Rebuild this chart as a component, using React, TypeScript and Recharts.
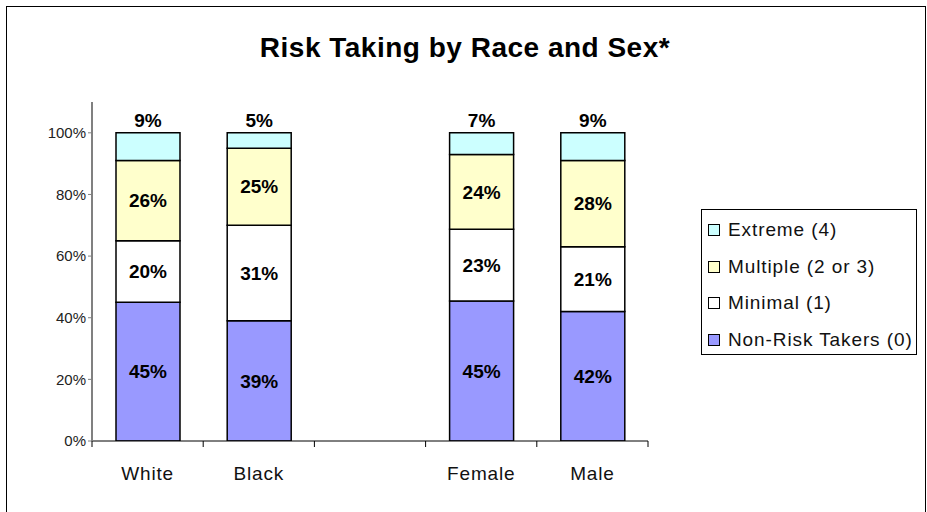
import { BarChart, Bar, XAxis, YAxis, LabelList } from 'recharts'

const categories = ['White', 'Black', '', 'Female', 'Male']
const nonRisk = [45, 39, 0, 45, 42]
const minimal = [20, 31, 0, 23, 21]
const multiple = [26, 25, 0, 24, 28]
const extreme = [9, 5, 0, 7, 9]
const yTicks = [0, 20, 40, 60, 80, 100]

const SERIES = [
  { key: 'nonRisk', label: 'Non-Risk Takers (0)', color: '#9999FF', values: nonRisk },
  { key: 'minimal', label: 'Minimal (1)', color: '#FFFFFF', values: minimal },
  { key: 'multiple', label: 'Multiple (2 or 3)', color: '#FFFFCC', values: multiple },
  { key: 'extreme', label: 'Extreme (4)', color: '#CCFFFF', values: extreme },
]

// 100% stacked: each column scaled to its own total, raw value kept for the label
const data = categories.map((name, i) => {
  const total = SERIES.reduce((t, s) => t + s.values[i], 0)
  const row: Record<string, any> = { name }
  SERIES.forEach(s => {
    row[s.key] = total ? (s.values[i] / total) * 100 : 0
    row[s.key + 'Raw'] = s.values[i]
  })
  return row
})

const W = 927
const H = 512
const PLOT_LEFT = 92
const PLOT_RIGHT = 648
const BAND = (PLOT_RIGHT - PLOT_LEFT) / categories.length
const FONT = '"Liberation Sans", Arial, sans-serif'

const pct = (v: any) => (v ? `${v}%` : '')

function CatTick({ x, y, payload, index }: any) {
  return (
    <g>
      <line x1={x - BAND / 2} x2={x - BAND / 2} y1={y - 8} y2={y - 2} stroke="#000" />
      {index === categories.length - 1 && (
        <line x1={x + BAND / 2} x2={x + BAND / 2} y1={y - 8} y2={y - 2} stroke="#000" />
      )}
      <text x={x} y={y + 31} textAnchor="middle" fontSize={19} letterSpacing={0.8} fill="#111" fontFamily={FONT}>
        {payload.value}
      </text>
    </g>
  )
}

function LegendBox() {
  const items = [...SERIES].reverse()
  return (
    <div style={{
      position: 'absolute', left: 701, top: 209,
      border: '1px solid #000', width: 216, height: 146, boxSizing: 'border-box',
      padding: '2px 0 0 6px', fontFamily: FONT, fontSize: 19, letterSpacing: 0.9, color: '#111', background: '#fff',
    }}>
      {items.map(s => (
        <div key={s.key} style={{ display: 'flex', alignItems: 'center', height: 36.5, whiteSpace: 'nowrap' }}>
          <span style={{
            display: 'inline-block', width: 10, height: 10, border: '1px solid #000',
            background: s.color, marginRight: 8, flexShrink: 0,
          }} />
          {s.label}
        </div>
      ))}
    </div>
  )
}

export default function App() {
  return (
    <div style={{ position: 'fixed', left: 0, top: 0, width: W, height: H, overflow: 'hidden', background: '#fff' }}>
      <div style={{
        position: 'absolute', left: 6, top: 6, width: 918, height: 530,
        borderLeft: '1px solid #000', borderTop: '1px solid #000', borderRight: '1px solid #000',
      }} />
      <div style={{
        position: 'absolute', top: 32, left: 0, width: 930, textAlign: 'center',
        fontFamily: FONT, fontWeight: 'bold', fontSize: 28, letterSpacing: 0.5, color: '#000',
      }}>
        Risk Taking by Race and Sex*
      </div>
      <div style={{ position: 'absolute', left: 0, top: 0 }}>
        <BarChart
          width={W}
          height={H}
          data={data}
          barSize={64}
          margin={{ top: 102, right: W - PLOT_RIGHT, bottom: 41, left: PLOT_LEFT - 60 }}
        >
          <XAxis dataKey="name" height={30} tickLine={false} axisLine={{ stroke: '#000' }} tick={<CatTick />} interval={0} />
          <YAxis
            width={60}
            domain={[0, 110]}
            ticks={yTicks}
            allowDataOverflow
            tickFormatter={(v: number) => `${v}%`}
            tick={{ fontSize: 15, fill: '#222', fontFamily: FONT }}
            tickSize={4}
            tickLine={{ stroke: '#808080' }}
            axisLine={{ stroke: '#808080', strokeWidth: 2 }}
          />
          {SERIES.map(s => (
            <Bar key={s.key} dataKey={s.key} name={s.label} stackId="a" fill={s.color} stroke="#000" strokeWidth={1.5} isAnimationActive={false}>
              <LabelList
                dataKey={s.key + 'Raw'}
                position={s.key === 'extreme' ? 'top' : 'center'}
                offset={6}
                formatter={pct}
                style={{ fontFamily: FONT, fontWeight: 'bold', fontSize: 19, fill: '#000' }}
              />
            </Bar>
          ))}
        </BarChart>
      </div>
      <LegendBox />
    </div>
  )
}
